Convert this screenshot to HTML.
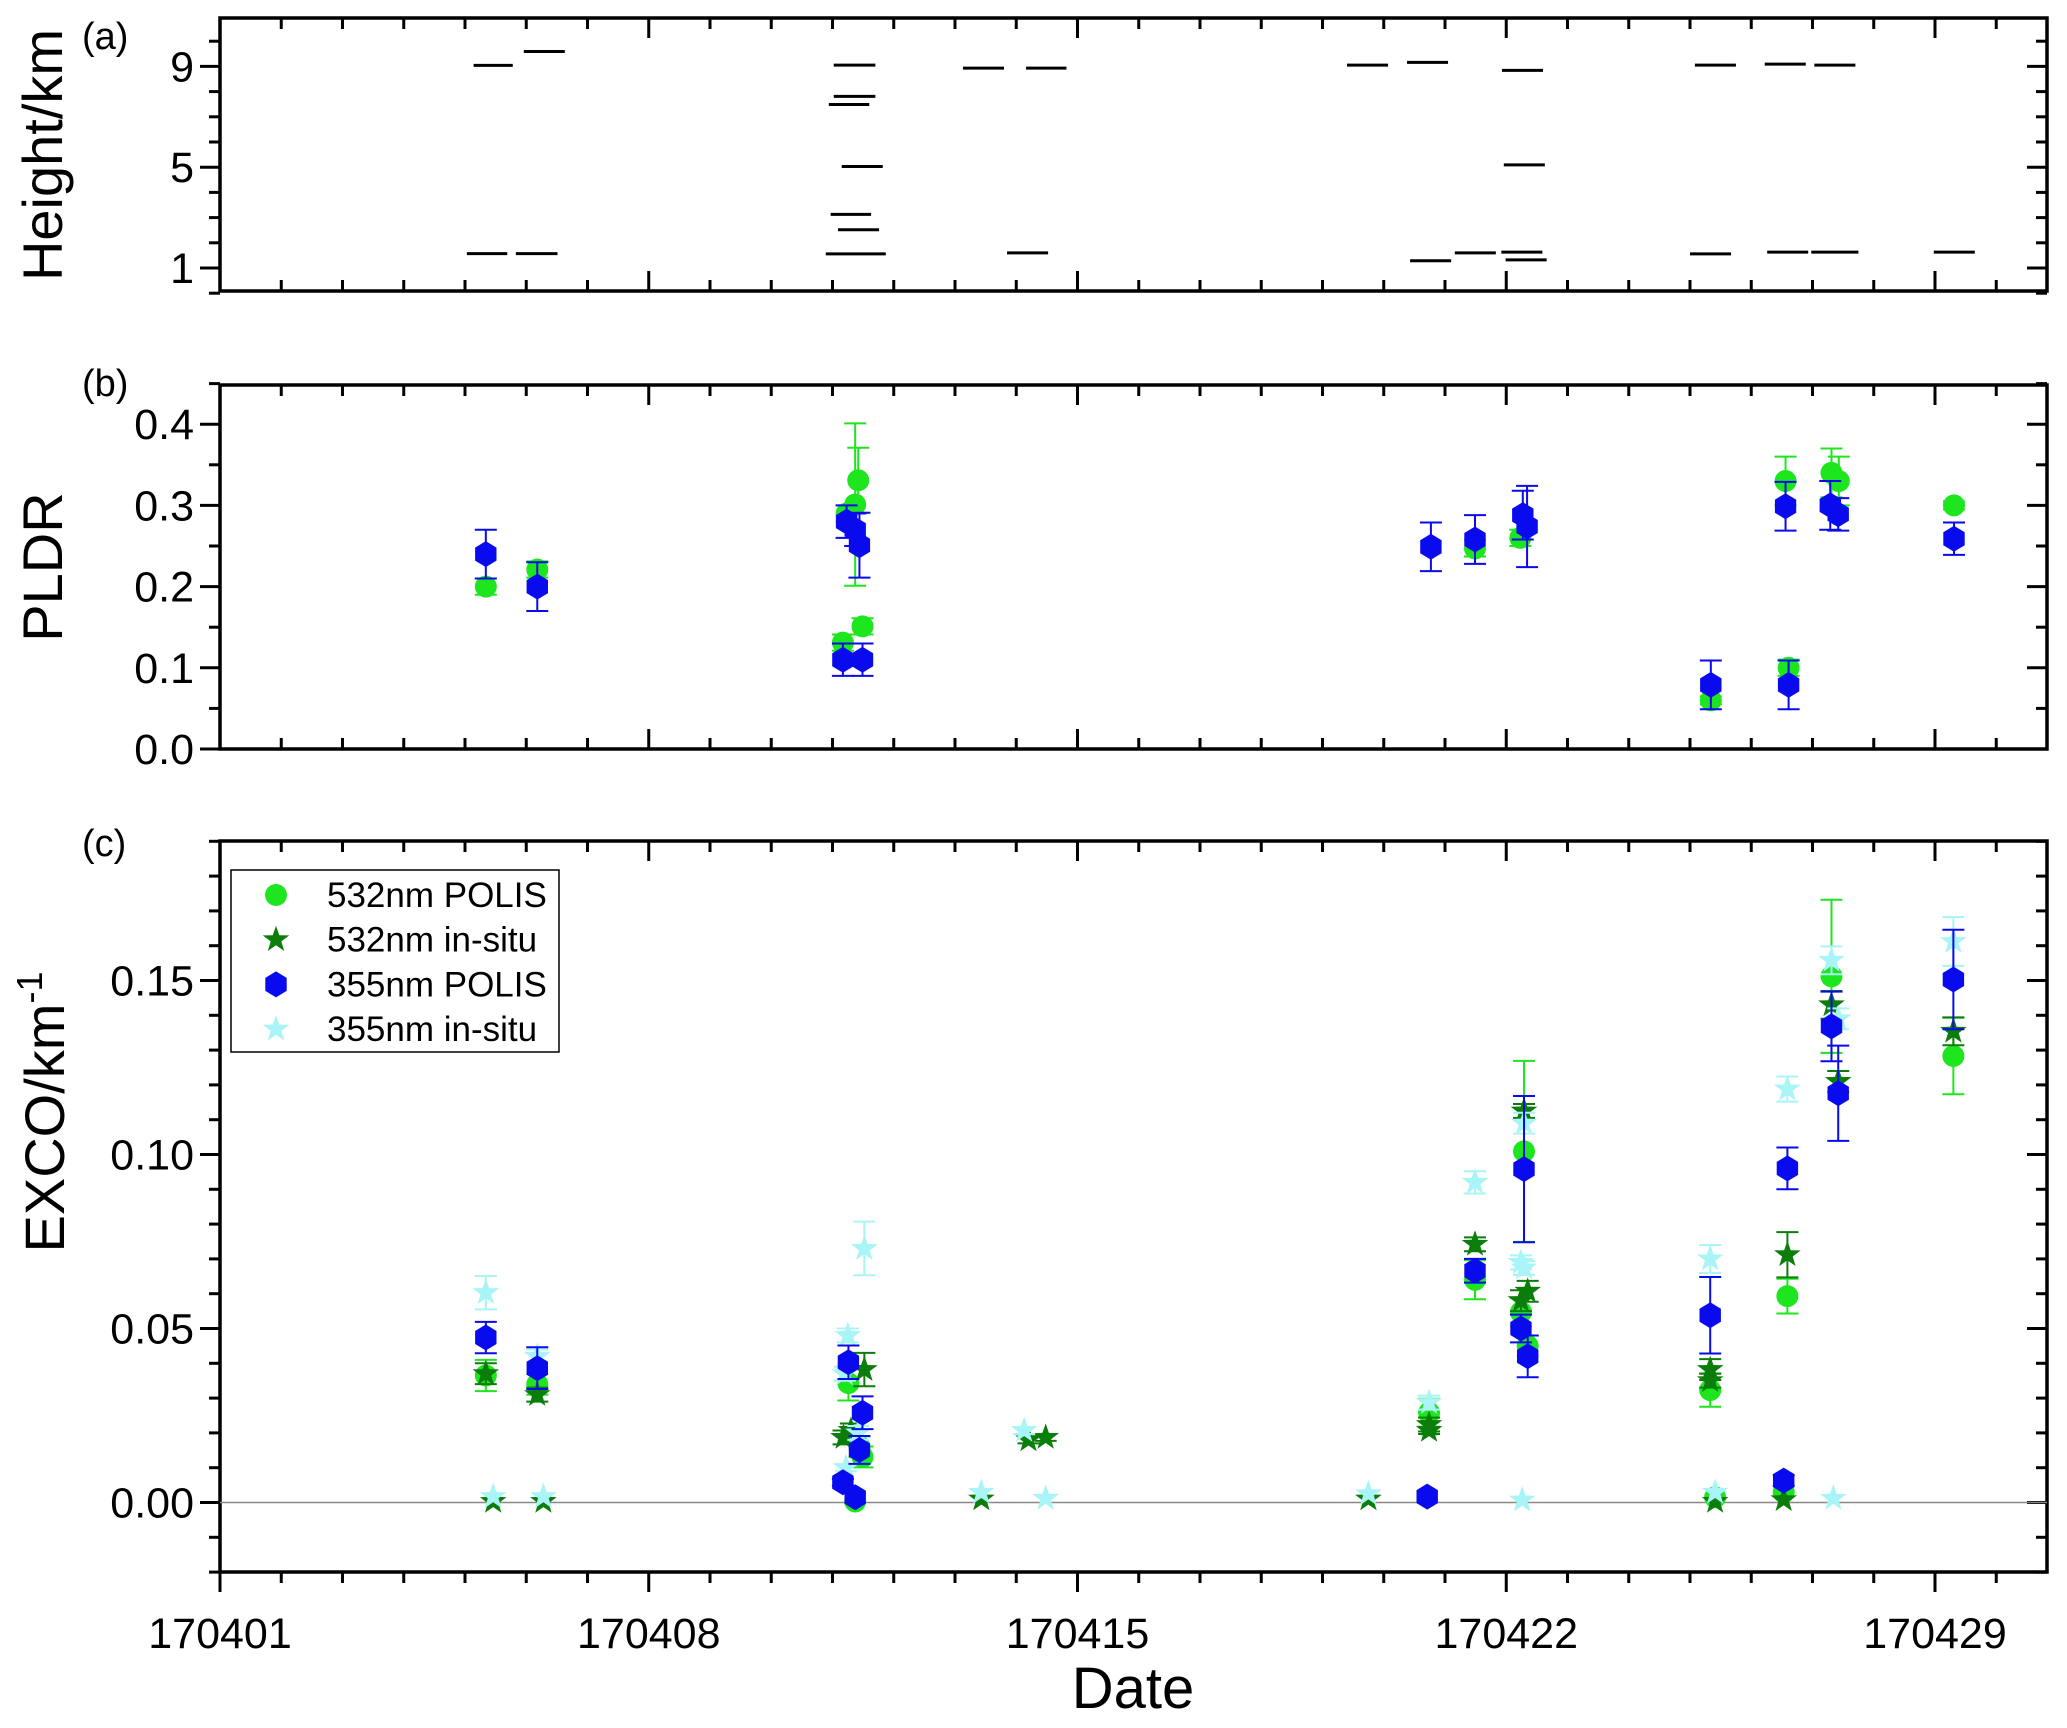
<!DOCTYPE html>
<html><head><meta charset="utf-8"><style>
html,body{margin:0;padding:0;background:#fff;}
svg{display:block;font-family:"Liberation Sans",Arial,sans-serif;}
</style></head><body>
<svg id="chart" width="2067" height="1728" viewBox="0 0 2067 1728" xmlns="http://www.w3.org/2000/svg"></svg>
<script>
// ---------- data ----------
const xTickLabels = ["170401","170408","170415","170422","170429"];
const xTickDays = [1,8,15,22,29];
// panel (a) cloud layers: start day, end day, height km
const layerStart = [5.14,5.96,5.03,5.83,11.02,11.02,10.94,11.15,10.97,11.09,10.89,13.13,14.16,13.85,19.40,20.38,21.93,21.96,20.43,21.16,21.92,21.99,25.08,26.22,27.03,25.00,26.26,26.98,28.98];
const layerEnd   = [5.78,6.63,5.69,6.51,11.70,11.70,11.60,11.82,11.63,11.76,11.87,13.80,14.82,14.52,20.07,21.05,22.60,22.63,21.10,21.83,22.59,22.66,25.75,26.89,27.70,25.67,26.93,27.75,29.65];
const layerHeight= [9.04,9.59,1.57,1.57,9.05,7.81,7.49,5.03,3.13,2.52,1.56,8.93,8.93,1.60,9.05,9.16,8.84,5.09,1.29,1.60,1.63,1.32,9.05,9.09,9.05,1.56,1.63,1.63,1.63];
const yTicksA = [1,5,9];
// panel (b) PLDR
const pldrGreenDay = [5.34,6.18,11.17,11.23,11.37,11.42,11.49,21.49,22.23,25.34,26.56,26.61,27.31,27.43,29.31];
const pldrGreenVal = [0.20,0.221,0.131,0.29,0.301,0.331,0.151,0.247,0.26,0.06,0.33,0.10,0.34,0.33,0.30];
const pldrGreenErr = [0.01,0.01,0.01,0.01,0.10,0.04,0.01,0.01,0.01,0.005,0.03,0.01,0.03,0.03,0.005];
const pldrBlueDay = [5.34,6.18,11.17,11.23,11.37,11.44,11.49,20.77,21.49,22.27,22.34,25.34,26.61,26.56,27.29,27.42,29.31];
const pldrBlueVal = [0.24,0.20,0.11,0.28,0.27,0.251,0.11,0.249,0.258,0.288,0.274,0.079,0.079,0.299,0.30,0.289,0.259];
const pldrBlueErr = [0.03,0.03,0.02,0.02,0.02,0.04,0.02,0.03,0.03,0.03,0.05,0.03,0.03,0.03,0.03,0.02,0.02];
const yTicksB = ["0.0","0.1","0.2","0.3","0.4"];
// panel (c) extinction coefficient
const g532Day = [5.34,6.18,11.26,11.44,11.49,11.37,20.74,21.49,22.29,22.24,22.35,25.33,25.41,26.59,26.53,27.31,29.3];
const g532Val = [0.0365,0.034,0.0343,0.016,0.0131,0.0003,0.0258,0.064,0.1009,0.0547,0.045,0.0323,0.0015,0.0593,0.0029,0.1512,0.1283];
const g532Err = [0.0045,0.003,0.005,0.003,0.003,0,0.004,0.0056,0.026,0.004,0.003,0.0048,0,0.005,0,0.022,0.011];
const s532Day = [5.34,5.46,6.18,6.28,11.18,11.3,11.52,13.43,14.2,14.48,19.75,20.74,20.74,21.49,22.29,22.35,22.24,25.33,25.33,25.41,26.59,26.53,27.31,27.42,29.3];
const s532Val = [0.037,0.0003,0.031,0.0003,0.0187,0.0207,0.0382,0.001,0.018,0.0187,0.001,0.0224,0.0207,0.0742,0.1125,0.0607,0.058,0.0382,0.035,0.0003,0.0712,0.0008,0.143,0.121,0.1354];
const s532Err = [0.003,0,0.002,0,0.002,0.002,0.0048,0,0.001,0.001,0,0.002,0.001,0.002,0.002,0.003,0.003,0.003,0.002,0,0.0065,0,0.004,0.003,0.004];
const b355Day = [5.34,6.18,11.26,11.49,11.44,11.17,11.37,20.71,21.49,22.29,22.24,22.35,25.33,26.59,26.53,27.31,27.42,29.3];
const b355Val = [0.0474,0.0386,0.0403,0.0258,0.0151,0.0058,0.0015,0.0017,0.0666,0.0958,0.05,0.042,0.0538,0.096,0.0063,0.1368,0.1176,0.1503];
const b355Err = [0.0045,0.006,0.0048,0.0047,0.004,0.001,0,0,0.0034,0.021,0.004,0.006,0.011,0.006,0.0015,0.010,0.0137,0.0143];
const c355Day = [5.34,5.46,6.18,6.28,11.52,11.25,11.2,11.42,11.22,13.43,14.13,14.48,19.75,20.74,21.49,22.29,22.29,22.24,22.26,25.33,25.41,26.59,27.34,27.31,27.42,29.3];
const c355Val = [0.0603,0.0017,0.042,0.0017,0.073,0.048,0.037,0.02,0.010,0.0029,0.0207,0.0012,0.0025,0.0287,0.092,0.109,0.0674,0.069,0.0007,0.07,0.0029,0.1188,0.0012,0.1558,0.139,0.1612];
const c355Err = [0.0048,0,0.002,0,0.0077,0.002,0.002,0.002,0.001,0,0.001,0,0,0.002,0.0032,0.003,0.002,0.002,0,0.004,0,0.0036,0,0.004,0.003,0.007];
const yTicksC = ["0.00","0.05","0.10","0.15"];
const legendLabels = ["532nm POLIS","532nm in-situ","355nm POLIS","355nm in-situ"];

// ---------- layout ----------
const NS="http://www.w3.org/2000/svg";
const svg=document.getElementById('chart');
const L=220,R=2047;
const X=d=>L+(d-1)*61.25;
const P={a:{top:18,bot:291,y:v=>268-(v-1)*25.2},
         b:{top:385,bot:749,y:v=>749-v*812},
         c:{top:841,bot:1572,y:v=>1502.5-v*3480}};
const COL={g:"#1ee61e",s:"#0b7d0b",b:"#0a0aee",c:"#a8f4f6"};
function el(tag,attrs,parent){const e=document.createElementNS(NS,tag);for(const k in attrs)e.setAttribute(k,attrs[k]);(parent||svg).appendChild(e);return e;}
function txt(s,attrs,parent){const e=el('text',attrs,parent);e.textContent=s;return e;}

function frame(p,name,bottomOut,yMajor,yMinor,yLabels){
  const g=el('g',{});
  
  
  el('rect',{x:L,y:p.top,width:R-L,height:p.bot-p.top,fill:'none',stroke:'#000','stroke-width':3.5},g);
  for(let d=1;d<=30;d++){
    const maj=(d-1)%7===0, x=X(d), len=maj?20:11;
    el('line',{x1:x,x2:x,y1:p.top,y2:p.top+len,stroke:'#000','stroke-width':3},g);
    if(bottomOut) el('line',{x1:x,x2:x,y1:p.bot,y2:p.bot+len,stroke:'#000','stroke-width':3},g);
    else el('line',{x1:x,x2:x,y1:p.bot,y2:p.bot-len,stroke:'#000','stroke-width':3},g);
  }
  yMinor.forEach(v=>{const y=p.y(v);
    el('line',{x1:L-11,x2:L,y1:y,y2:y,stroke:'#000','stroke-width':3},g);
    el('line',{x1:R,x2:R-11,y1:y,y2:y,stroke:'#000','stroke-width':3},g);});
  yMajor.forEach((v,i)=>{const y=p.y(v);
    el('line',{x1:L-20,x2:L,y1:y,y2:y,stroke:'#000','stroke-width':3},g);
    el('line',{x1:R,x2:R-20,y1:y,y2:y,stroke:'#000','stroke-width':3},g);
    const t=txt(yLabels[i],{x:L-26,y:y+15,'font-size':43,'text-anchor':'end',fill:'#000'},g);
    
    
  });
}
frame(P.a,'panel-a',false,yTicksA,[0,2,3,4,6,7,8,10],yTicksA.map(String));
frame(P.b,'panel-b',false,[0,0.1,0.2,0.3,0.4],[0.05,0.15,0.25,0.35,0.45],yTicksB);
const minC=[];for(let i=-2;i<=19;i++){if(i%5!==0)minC.push(i/100);}
frame(P.c,'panel-c',true,[0,0.05,0.1,0.15],minC,yTicksC);
const zl=el('line',{x1:L,x2:R,y1:P.c.y(0),y2:P.c.y(0),stroke:'#888','stroke-width':1.5});



xTickDays.forEach((d,i)=>{const t=txt(xTickLabels[i],{x:X(d),y:1648,'font-size':43,'text-anchor':'middle'});
  
  });

function title(s,x,y,rot,size,name){const t=txt(s,{x:x,y:y,'font-size':size,'text-anchor':'middle',transform:rot?`rotate(-90 ${x} ${y})`:''});
  return t;}
title('Date',1133,1708,false,58,'x-axis-title');
title('Height/km',62,155,true,56,'panel-a-y-axis-title');
title('PLDR',62,567,true,56,'panel-b-y-axis-title');
const ex=title('EXCO/km',64,1112,true,56,'panel-c-y-axis-title');
const sup=document.createElementNS(NS,'tspan');sup.setAttribute('dy','-22');sup.setAttribute('font-size','36');sup.textContent='-1';ex.appendChild(sup);
[['(a)',36,'panel-a-label'],['(b)',383,'panel-b-label'],['(c)',843,'panel-c-label']].forEach(a=>{
  const t=txt(a[0],{x:82,y:a[1]+13,'font-size':38});
  });

layerStart.forEach((s,i)=>{const y=P.a.y(layerHeight[i]);
  const l=el('line',{x1:X(s),x2:X(layerEnd[i]),y1:y,y2:y,stroke:'#000','stroke-width':3});
  
  });

function marker(kind,cx,cy,parent){
  if(kind==='g') return el('circle',{cx:cx,cy:cy,r:11,fill:COL.g},parent);
  if(kind==='b'){const r=13,pts=[];for(let k=0;k<6;k++){const a=Math.PI/3*k-Math.PI/2;pts.push((cx+r*Math.cos(a)*0.95).toFixed(1)+','+(cy+r*Math.sin(a)).toFixed(1));}
    return el('polygon',{points:pts.join(' '),fill:COL.b},parent);}
  const ro=14,ri=5.6,pts=[];for(let k=0;k<10;k++){const r=k%2?ri:ro,a=Math.PI/5*k-Math.PI/2;pts.push((cx+r*Math.cos(a)).toFixed(1)+','+(cy+r*Math.sin(a)).toFixed(1));}
  return el('polygon',{points:pts.join(' '),fill:COL[kind]},parent);
}
function series(kind,days,vals,errs,p,name){
  const g=el('g',{});
  
  
  days.forEach((d,i)=>{const x=X(d),y=p.y(vals[i]);
    if(errs[i]>0){const y1=p.y(vals[i]+errs[i]),y2=p.y(vals[i]-errs[i]);
      el('line',{x1:x,x2:x,y1:y1,y2:y2,stroke:COL[kind],'stroke-width':2},g);
      el('line',{x1:x-11,x2:x+11,y1:y1,y2:y1,stroke:COL[kind],'stroke-width':2},g);
      el('line',{x1:x-11,x2:x+11,y1:y2,y2:y2,stroke:COL[kind],'stroke-width':2},g);}
    const m=marker(kind,x,y,g);
    
    
  });
}
series('g',pldrGreenDay,pldrGreenVal,pldrGreenErr,P.b,'pldr-532');
series('b',pldrBlueDay,pldrBlueVal,pldrBlueErr,P.b,'pldr-355');
series('g',g532Day,g532Val,g532Err,P.c,'exco-532-polis');
series('s',s532Day,s532Val,s532Err,P.c,'exco-532-insitu');
series('c',c355Day,c355Val,c355Err,P.c,'exco-355-insitu');
series('b',b355Day,b355Val,b355Err,P.c,'exco-355-polis');

const lg=el('g',{});


el('rect',{x:231,y:870,width:328,height:182,fill:'#fff',stroke:'#000','stroke-width':1.5},lg);
['g','s','b','c'].forEach((k,i)=>{const y=895+i*44.7;
  const e=el('g',{},lg);
  
  
  marker(k,276,y,e);
  txt(legendLabels[i],{x:327,y:y+12,'font-size':35},e);});
</script>
</body></html>
